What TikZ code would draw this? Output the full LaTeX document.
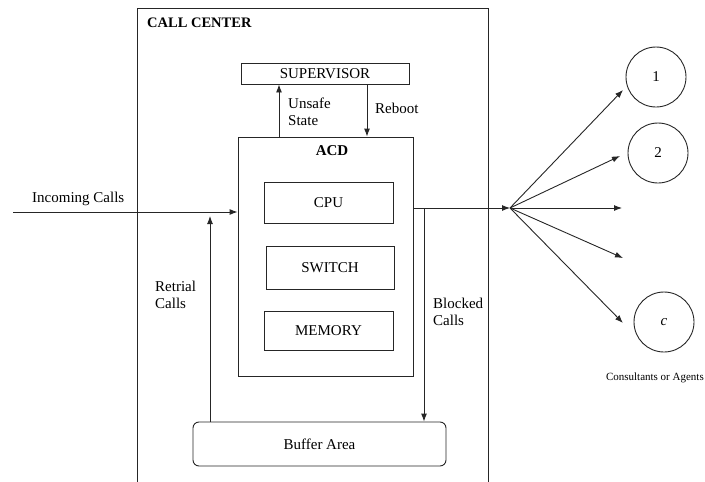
\documentclass[tikz,border=0pt]{standalone}
\usepackage{fontspec}
\setmainfont{Liberation Serif}
\usetikzlibrary{arrows.meta}
\begin{document}
\begin{tikzpicture}[x=1pt, y=-1pt, font=\fontsize{15}{17}\selectfont,
          >={Latex[length=8pt,width=6pt]},
          line/.style={draw=black!85, line width=0.9pt},
          box/.style={line, rectangle, inner sep=0pt},
          agent/.style={line, circle, minimum size=60pt, inner sep=0pt},
          lbl/.style={align=left, anchor=west, inner sep=0pt}]
        \useasboundingbox (0,0) rectangle (705,482);
        % The call centre frame runs off the bottom of the page, so only three sides show.
        \draw[line] (137,490) -- (137,8) -- (488,8) -- (488,490);
        \node[anchor=west, inner sep=0pt, font=\fontsize{14.5}{16}\selectfont\bfseries] (title) at (147,23) {CALL CENTER};
        \node[box, minimum width=168pt, minimum height=21pt] (sup) at (325,73.5) {SUPERVISOR};
        \node[box, minimum width=175pt, minimum height=239pt] (acd) at (325.5,256.5) {};
        \node[anchor=north, inner sep=0pt, font=\fontsize{15}{17}\selectfont\bfseries] (acdlbl) at (332,145) {ACD};
        \node[box, minimum width=129pt, minimum height=41pt] (cpu) at (328.5,202.5) {CPU};
        \node[box, minimum width=128pt, minimum height=43pt] (switch) at (330,267.5) {SWITCH};
        \node[box, minimum width=129pt, minimum height=39pt] (memory) at (328.5,330.5) {MEMORY};
        \node[box, rounded corners=6pt, minimum width=253pt, minimum height=44pt] (buffer) at (319.5,444) {Buffer Area};
        % Supervisor loop
        \coordinate (unsafe) at (279,0);
        \coordinate (reboot) at (367,0);
        \draw[line, ->] (acd.north -| unsafe) -- (sup.south -| unsafe);
        \draw[line, ->] (sup.south -| reboot) -- (acd.north -| reboot);
        \node[lbl] (unsafelbl) at (288,112) {Unsafe\\State};
        \node[lbl] (rebootlbl) at (375,108) {Reboot};
        % Incoming and retrial calls
        \coordinate (in) at (13,212);
        \coordinate (ret) at (210,216);
        \draw[line, ->] (in) -- (in -| acd.west);
        \draw[line, ->] (buffer.north -| ret) -- (ret);
        \node[anchor=south west, inner sep=0pt] (inlbl) at (32,206) {Incoming Calls};
        \node[lbl] (retlbl) at (155,295) {Retrial\\Calls};
        % Outgoing and blocked calls
        \coordinate (hub) at (510,208);
        \coordinate (blk) at (424,208);
        \draw[line, ->] (hub -| acd.east) -- (hub);
        \draw[line, ->] (blk) -- (buffer.north -| blk);
        \node[lbl] (blklbl) at (433,312) {Blocked\\Calls};
        % Consultants
        \node[agent] (a1) at (656,77) {1};
        \node[agent] (a2) at (658,153) {2};
        \node[agent] (ac) at (664,322) {\textit{c}};
        \coordinate (t1) at (623,90);
        \coordinate (t2) at (620,156);
        \coordinate (t3) at (622,208);
        \coordinate (t4) at (623,258);
        \coordinate (tc) at (623,323);
        \foreach \t in {t1,t2,t3,t4,tc} {
          \draw[line, ->] (hub) -- (\t);
        }
        \node[anchor=east, inner sep=0pt, font=\fontsize{11}{13}\selectfont] (agentslbl) at (704,378) {Consultants or Agents};
      \end{tikzpicture}
\end{document}
